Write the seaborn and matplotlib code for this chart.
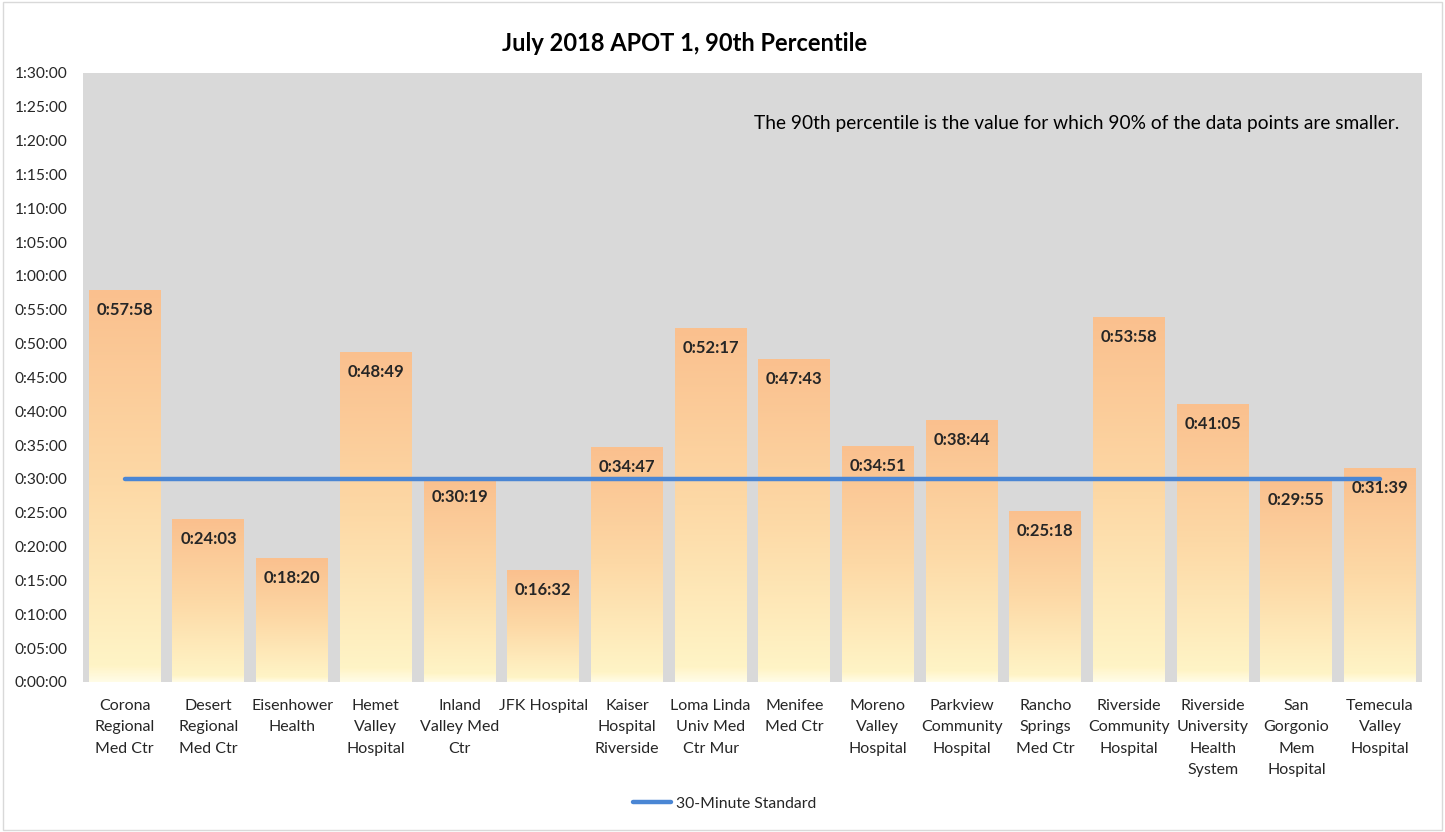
import numpy as np
import pandas as pd
import matplotlib
matplotlib.use("Agg")
import matplotlib.pyplot as plt
import seaborn as sns
from matplotlib.colors import LinearSegmentedColormap
from matplotlib.patches import Rectangle

# Hospitals and their 90th percentile APOT times (mm:ss)
hospitals = [
    "Corona\nRegional\nMed Ctr", "Desert\nRegional\nMed Ctr", "Eisenhower\nHealth",
    "Hemet\nValley\nHospital", "Inland\nValley Med\nCtr", "JFK Hospital",
    "Kaiser\nHospital\nRiverside", "Loma Linda\nUniv Med\nCtr Mur", "Menifee\nMed Ctr",
    "Moreno\nValley\nHospital", "Parkview\nCommunity\nHospital", "Rancho\nSprings\nMed Ctr",
    "Riverside\nCommunity\nHospital", "Riverside\nUniversity\nHealth\nSystem",
    "San\nGorgonio\nMem\nHospital", "Temecula\nValley\nHospital",
]
apot_times = ["57:58", "24:03", "18:20", "48:49", "30:19", "16:32", "34:47", "52:17",
              "47:43", "34:51", "38:44", "25:18", "53:58", "41:05", "29:55", "31:39"]
standard_minutes = 30

minutes = [int(t.split(":")[0]) + int(t.split(":")[1]) / 60 for t in apot_times]
df = pd.DataFrame({"hospital": hospitals, "minutes": minutes, "label": ["0:" + t for t in apot_times]})

sns.set_style("white")
plt.rcParams["font.family"] = ["Lato", "DejaVu Sans"]

fig = plt.figure(figsize=(14.45, 8.32), dpi=100)
ax = fig.add_axes([0.0574, 0.1803, 0.9266, 0.732])
ax.set_facecolor("#d9d9d9")

sns.barplot(data=df, x="hospital", y="minutes", ax=ax, width=0.86, color="#fac090")

# gradient fill per bar (orange top -> pale yellow bottom)
cmap = LinearSegmentedColormap.from_list(
    "grad", [(0, "#fffce6"), (0.04, "#fff4c6"), (0.5, "#fdd9a6"), (1, "#fac08e")])
grad = np.linspace(0, 1, 256).reshape(-1, 1)
for bar, lab in zip(ax.patches, df["label"]):
    x0, w, h = bar.get_x(), bar.get_width(), bar.get_height()
    bar.set_facecolor("none")
    bar.set_edgecolor("none")
    im = ax.imshow(grad, cmap=cmap, aspect="auto", origin="lower",
                   extent=[x0, x0 + w, 0, h], zorder=2)
    im.set_clip_path(bar)
    ax.annotate(lab, (x0 + w / 2, h), xytext=(0, -14.5), textcoords="offset points",
                ha="center", va="center", fontsize=12, fontweight="bold",
                color="#262626", zorder=4)

# 30-minute standard line
ax.plot([0, len(hospitals) - 1], [standard_minutes] * 2, color="#4a86d4", lw=3.2,
        solid_capstyle="round", zorder=3, label="30-Minute Standard")

ax.set_xlim(-0.5, len(hospitals) - 0.5)
ax.set_ylim(0, 90)
ax.set_xticks(range(len(hospitals)), labels=hospitals, linespacing=1.68)
yt = np.arange(0, 91, 5)
ax.set_yticks(yt)
ax.set_yticklabels([f"{m // 60}:{m % 60:02d}:00" for m in yt], fontsize=11.2, color="#262626")
ax.tick_params(axis="x", labelsize=11.5, colors="#262626", length=0, pad=12)
ax.tick_params(axis="y", length=0, pad=11)
ax.set_xlabel("")
ax.set_ylabel("")
for s in ax.spines.values():
    s.set_visible(False)

fig.text(0.4735, 0.948, "July 2018 APOT 1, 90th Percentile", ha="center", va="center",
         fontsize=17, fontweight="bold", color="#000000")
ax.text(0.983, 0.917, "The 90th percentile is the value for which 90% of the data points are smaller.",
        transform=ax.transAxes, ha="right", va="center", fontsize=13.8, color="#000000")

fig.legend(loc="center", bbox_to_anchor=(0.5015, 0.034), frameon=False, fontsize=11.3,
           handlelength=2.4, handletextpad=0.3, labelcolor="#262626")

fig.add_artist(Rectangle((0.002, 0.002), 0.996, 0.996, transform=fig.transFigure,
                         fill=False, edgecolor="#d9d9d9", lw=1))

fig.savefig("out.png", dpi=100)
